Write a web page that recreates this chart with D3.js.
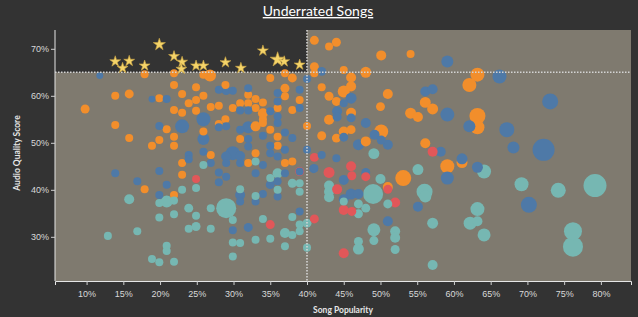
<!DOCTYPE html>
<html>
<head>
<meta charset="utf-8">
<script src="https://cdn.jsdelivr.net/npm/d3@7"></script>
<style>
  body { margin: 0; background: #333333; }
  svg { display: block; font-family: Lato, "Open Sans", sans-serif; }
  .tick text { fill: #d9d9d9; font-size: 9px; }
  .tick line { stroke: #cfcfcf; }
</style>
</head>
<body>
<svg width="638" height="317"></svg>
<script>
// [popularity %, audio quality %, weight]
const orangeSongs = [
  [41.0,71.8,20],[43.0,70.5,16],[44.0,71.4,20],[50.1,68.6,25],[54.1,68.9,16],[41.0,66.2,20],
  [41.0,64.8,16],[45.0,65.5,16],[46.0,63.9,25],[48.0,65.0,30],[63.2,64.5,49],[62.1,62.3,49],
  [42.0,61.8,16],[45.0,60.9,36],[46.0,62.0,25],[43.0,59.9,20],[44.0,58.8,20],[51.0,60.4,25],
  [56.1,58.6,30],[57.1,57.2,30],[50.0,57.7,20],[54.1,56.3,30],[55.1,55.5,25],[63.2,55.7,64],
  [63.2,53.3,49],[43.0,54.9,25],[46.0,56.4,25],[50.1,52.4,49],[42.0,51.5,20],[44.0,51.0,20],
  [45.0,52.4,25],[46.0,52.8,20],[48.0,50.3,25],[56.1,49.9,25],[53.1,42.5,64],[59.1,45.0,49],
  [61.1,45.8,30],[51.0,40.6,25],
  [17.9,64.6,16],[21.9,64.8,16],[26.8,64.3,36],[25.9,64.5,16],[35.0,63.8,16],[37.0,64.8,16],
  [38.0,63.8,20],[13.9,60.0,16],[15.8,60.4,20],[9.8,57.2,20],[19.9,59.5,16],[21.9,62.3,16],
  [23.0,60.4,16],[24.9,61.8,16],[23.9,58.4,16],[24.9,59.1,16],[25.9,60.0,16],[21.9,57.0,16],
  [23.0,56.4,16],[24.9,56.8,16],[26.9,57.6,16],[28.0,57.9,16],[28.9,62.3,16],[28.9,55.0,16],
  [29.9,57.4,16],[30.9,58.4,16],[32.0,60.2,16],[33.0,59.3,16],[34.0,58.6,16],[32.0,58.4,16],
  [33.0,57.4,16],[34.0,56.3,25],[34.0,55.0,16],[37.0,61.6,20],[37.0,59.9,16],[39.0,59.1,16],
  [38.0,57.0,16],[36.0,57.4,16],[40.0,53.6,16],[13.9,53.8,16],[20.9,52.9,16],[15.8,51.0,16],
  [18.9,49.4,16],[19.9,50.6,16],[21.9,51.3,16],[21.9,49.4,16],[25.9,52.4,16],[28.0,54.0,16],
  [30.9,50.8,16],[33.0,53.5,25],[34.0,54.2,16],[35.0,52.8,16],[36.0,51.3,16],[36.0,49.4,16],
  [23.0,45.7,16],[23.0,43.2,16],[26.9,47.4,16],[32.0,45.7,16],[33.0,47.8,16],[37.0,45.7,16],
  [38.0,46.0,16],[17.9,40.1,16],[21.9,38.9,16]
];

const blueSongs = [
  [11.8,64.3,12],[40.0,63.6,16],[18.9,59.3,12],[20.9,59.3,16],[25.9,55.0,49],[28.0,61.3,16],
  [29.0,61.1,20],[29.9,61.1,16],[30.9,56.9,16],[32.0,56.9,16],[32.0,61.6,16],[36.0,60.6,16],
  [36.0,58.8,16],[39.0,61.3,16],[39.0,57.4,16],[35.0,56.7,16],[36.0,55.6,16],[19.9,53.6,16],
  [23.0,53.5,49],[25.9,50.8,36],[28.0,53.3,16],[29.0,53.5,16],[32.0,53.3,36],[30.9,52.8,16],
  [32.0,50.8,16],[34.0,51.5,16],[36.0,54.2,16],[37.0,52.2,16],[38.0,51.0,16],[35.0,49.4,16],
  [23.9,47.4,16],[23.9,46.5,16],[25.9,48.1,16],[26.9,45.7,16],[29.9,47.8,49],[29.0,47.1,25],
  [29.0,45.7,16],[30.9,47.2,25],[30.9,45.7,16],[32.0,49.2,16],[34.0,45.3,16],[36.0,47.1,16],
  [35.0,47.8,16],[37.0,48.5,16],[39.0,43.9,16],[40.0,48.5,16],[41.0,44.6,16],[13.9,43.5,16],
  [16.9,41.8,16],[19.9,44.0,16],[20.9,41.1,16],[19.9,38.9,16],[28.0,43.7,16],[28.0,41.6,16],
  [29.0,42.8,16],[30.9,38.9,25],[30.9,37.5,16],[33.0,43.5,16],[33.0,37.5,16],[34.0,39.1,16],
  [35.0,41.1,20],[36.0,41.8,16],[36.0,38.6,16],[37.0,43.5,16],[29.9,31.4,16],[32.0,32.0,20],
  [39.0,35.4,16],
  [59.1,67.3,36],[42.0,65.2,20],[66.2,64.1,49],[46.0,59.5,30],[45.0,58.4,16],[56.1,60.9,25],
  [57.1,61.4,25],[59.1,56.0,49],[62.1,53.5,36],[67.2,52.8,56],[73.1,58.8,64],[68.1,49.0,36],
  [72.2,48.5,121],[44.1,56.7,25],[44.1,55.5,20],[46.0,55.3,20],[48.0,54.2,25],[49.2,51.7,25],
  [50.1,50.6,20],[51.0,49.6,25],[45.0,51.2,20],[47.0,49.6,30],[58.2,48.1,25],[61.1,46.6,30],
  [42.0,47.4,16],[44.0,46.7,16],[40.9,44.5,20],[45.0,42.1,25],[48.0,43.7,20],[63.2,44.8,30],
  [59.1,42.5,42],[70.2,36.8,64],[46.0,39.1,30],[47.0,39.1,25],[45.0,38.0,25],[55.1,36.4,25],
  [51.0,33.3,25]
];

const tealSongs = [
  [25.9,45.3,16],[33.0,46.0,16],[24.9,40.4,16],[30.9,40.1,16],[33.0,38.7,16],[35.0,42.5,16],
  [36.0,43.5,25],[36.0,40.0,16],[38.0,41.4,20],[39.0,41.4,16],[39.0,39.6,16],[15.8,38.0,25],
  [19.9,37.2,16],[20.9,37.5,36],[21.9,37.7,16],[23.0,40.0,16],[23.9,36.1,20],[24.9,34.5,16],
  [26.9,36.1,16],[29.0,36.1,100],[29.9,33.6,16],[19.9,34.1,16],[21.9,34.8,16],[16.9,31.2,16],
  [12.9,30.2,16],[23.9,31.7,16],[24.9,32.2,20],[26.9,31.7,16],[34.0,33.8,16],[38.0,34.2,16],
  [39.0,32.6,16],[40.0,32.9,20],[37.0,30.8,25],[38.0,30.4,16],[39.0,31.2,16],[37.0,28.0,16],
  [40.0,27.7,16],[33.0,29.4,16],[35.0,29.6,16],[29.9,28.8,16],[30.9,28.7,16],[20.9,28.1,16],
  [20.9,27.0,16],[18.9,25.3,16],[19.9,24.6,16],[21.9,24.7,16],[29.9,25.8,16],
  [49.1,47.7,30],[50.0,42.3,25],[55.1,44.3,30],[64.1,43.9,49],[69.2,41.2,49],[74.2,39.9,56],
  [79.2,40.9,132],[49.0,39.1,100],[43.0,40.9,25],[43.0,39.6,25],[43.0,38.4,25],[45.0,37.5,16],
  [47.0,37.0,20],[48.0,36.1,20],[47.0,34.9,20],[51.0,37.0,20],[56.0,39.6,64],[56.1,38.6,36],
  [63.2,35.9,49],[62.2,32.9,42],[63.2,33.3,25],[64.1,30.4,42],[57.1,32.9,30],[49.1,31.5,42],
  [49.1,29.2,20],[47.0,29.0,20],[47.0,27.4,30],[52.0,31.2,25],[52.0,29.8,25],[52.0,27.3,20],
  [57.1,24.0,25],[76.2,31.2,81],[76.2,27.9,100]
];

const redSongs = [
  [41.0,46.9,20],[24.9,42.3,16],[39.0,43.9,20],[35.0,32.6,20],[41.0,33.8,20],[57.1,48.1,25],
  [46.0,45.0,25],[43.0,43.7,30],[46.1,43.0,20],[48.0,42.8,20],[44.1,40.1,25],[45.0,35.7,25],
  [46.1,35.4,20],[52.0,37.3,25],[51.0,40.1,20],[45.0,26.5,25]
];

// the underrated ones (low popularity, high audio quality)
const starSongs = [
  [13.9,67.3,16],[14.9,65.9,16],[15.8,67.4,16],[17.9,66.4,16],[19.9,70.9,20],[21.9,68.4,16],
  [23.0,67.2,16],[22.9,65.7,16],[24.9,66.4,16],[25.9,66.4,16],[28.9,67.1,16],[31.0,65.9,16],
  [34.0,69.6,16],[36.0,67.7,30],[36.9,67.3,16],[39.0,66.6,16]
];

const xTicks = [10, 15, 20, 25, 30, 35, 40, 45, 50, 55, 60, 65, 70, 75, 80];
const yTicks = [30, 40, 50, 60, 70];
const popularityCut = 40;
const qualityCut = 65;

const margin = {top: 30, right: 7, bottom: 36, left: 55},
    width = 638 - margin.left - margin.right,
    height = 317 - margin.top - margin.bottom;

const svg = d3.select('svg');
const g = svg.append('g')
    .attr('transform', `translate(${margin.left},${margin.top})`);

const xScale = d3.scaleLinear().domain([5.7, 84.1]).range([0, width]);
const yScale = d3.scaleLinear().domain([20.6, 74.0]).range([height, 0]);
const rScale = d3.scaleSqrt().domain([0, 132]).range([0, 11.5]);

// plot background + dark "underrated" corner
g.append('rect')
    .attr('width', width)
    .attr('height', height)
    .attr('fill', '#7f7a6f');

g.append('rect')
    .attr('width', xScale(popularityCut))
    .attr('height', yScale(qualityCut))
    .attr('fill', '#333333');

// axes
const xAxisG = g.append('g')
    .attr('transform', `translate(0,${height})`)
    .call(d3.axisBottom(xScale).tickValues(xTicks).tickSize(4).tickPadding(6).tickFormat(d => d + '%'));
xAxisG.select('.domain').attr('stroke', '#e6e6e6');

const yAxisG = g.append('g')
    .call(d3.axisLeft(yScale).tickValues(yTicks).tickSize(4).tickPadding(2).tickFormat(d => d + '%'));
yAxisG.select('.domain').attr('stroke', '#e6e6e6').attr('d', `M0,0V${height}`);

// dots
const colors = {orange: '#f28e2b', blue: '#4e79a7', teal: '#76b7b2', red: '#e15759'};
const allSongs = [].concat(
    orangeSongs.map(d => ({x: d[0], y: d[1], w: d[2], c: colors.orange})),
    blueSongs.map(d => ({x: d[0], y: d[1], w: d[2], c: colors.blue})),
    tealSongs.map(d => ({x: d[0], y: d[1], w: d[2], c: colors.teal})),
    redSongs.map(d => ({x: d[0], y: d[1], w: d[2], c: colors.red}))
).sort((a, b) => b.w - a.w);

g.append('g').selectAll('circle')
    .data(allSongs)
    .enter().append('circle')
    .attr('cx', d => xScale(d.x))
    .attr('cy', d => yScale(d.y))
    .attr('r', d => rScale(d.w))
    .attr('fill', d => d.c);

// reference lines
g.append('line')
    .attr('x1', 0).attr('x2', width)
    .attr('y1', yScale(qualityCut)).attr('y2', yScale(qualityCut))
    .attr('stroke', '#d4d4d4').attr('stroke-width', 1.6).attr('stroke-dasharray', '1.5,1.5');

g.append('line')
    .attr('x1', xScale(popularityCut)).attr('x2', xScale(popularityCut))
    .attr('y1', 0).attr('y2', height)
    .attr('stroke', '#d4d4d4').attr('stroke-width', 1.6).attr('stroke-dasharray', '1.5,1.5');

// stars
g.append('g').selectAll('path')
    .data(starSongs)
    .enter().append('path')
    .attr('transform', d => `translate(${xScale(d[0])},${yScale(d[1])})`)
    .attr('d', d => d3.symbol(d3.symbolStar, Math.pow(rScale(d[2]), 2) * 2.3)())
    .attr('fill', '#f5d469')
    .attr('stroke', '#c9a444')
    .attr('stroke-width', 0.6);

// titles
svg.append('text')
    .attr('x', 318)
    .attr('y', 16)
    .attr('text-anchor', 'middle')
    .attr('fill', '#ffffff')
    .style('font-size', '14px')
    .style('text-decoration', 'underline')
    .text('Underrated Songs');

svg.append('text')
    .attr('x', margin.left + width / 2)
    .attr('y', 313)
    .attr('text-anchor', 'middle')
    .attr('fill', '#e6e6e6')
    .style('font-size', '8.5px')
    .style('font-weight', 'bold')
    .text('Song Popularity');

svg.append('text')
    .attr('transform', 'rotate(-90)')
    .attr('x', -153)
    .attr('y', 20)
    .attr('text-anchor', 'middle')
    .attr('fill', '#e6e6e6')
    .style('font-size', '8.5px')
    .style('font-weight', 'bold')
    .text('Audio Quality Score');
</script>
</body>
</html>
